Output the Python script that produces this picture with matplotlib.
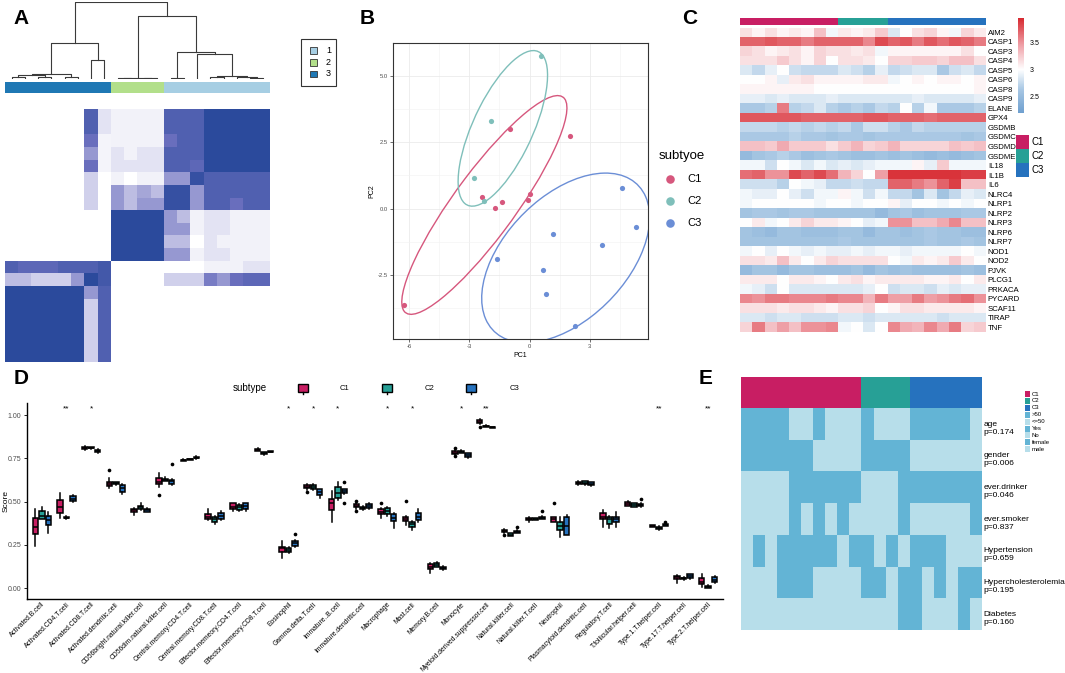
import numpy as np
import matplotlib.pyplot as plt
from matplotlib.colors import LinearSegmentedColormap, ListedColormap, Normalize
from matplotlib.patches import Rectangle, Ellipse

plt.rcParams['font.family'] = ['Liberation Sans', 'DejaVu Sans']

W, H = 1065, 673
fig = plt.figure(figsize=(W / 100, H / 100), dpi=100)


def box(x0, y0, x1, y1):
    # axes from pixel box (top-left origin)
    return fig.add_axes([x0 / W, 1 - y1 / H, (x1 - x0) / W, (y1 - y0) / H])


C1, C2, C3 = '#C81E63', '#27A096', '#2672BE'

# ---------------- panel A data ----------------
a_groups = [3] * 8 + [2] * 4 + [1] * 8
a_group_cols = ['#A6CEE3', '#B2DF8A', '#1F78B4']
consensus = [
    [0, 0, 0, 0, 0, 0, .85, .25, .12, .12, .12, .12, .85, .85, .85, 1, 1, 1, 1, 1],
    [0, 0, 0, 0, 0, 0, .85, .25, .12, .12, .12, .12, .85, .85, .85, 1, 1, 1, 1, 1],
    [0, 0, 0, 0, 0, 0, .75, .1, .12, .12, .12, .12, .75, .85, .85, 1, 1, 1, 1, 1],
    [0, 0, 0, 0, 0, 0, .6, .1, .25, .12, .25, .25, .85, .85, .85, 1, 1, 1, 1, 1],
    [0, 0, 0, 0, 0, 0, .75, .1, .25, .25, .25, .25, .85, .85, .8, 1, 1, 1, 1, 1],
    [0, 0, 0, 0, 0, 0, .35, 0, .12, 0, .12, .12, .6, .6, .95, .85, .85, .85, .85, .85],
    [0, 0, 0, 0, 0, 0, .35, 0, .6, .45, .55, .45, .95, .95, .6, .85, .85, .85, .85, .85],
    [0, 0, 0, 0, 0, 0, .35, 0, .6, .45, .6, .6, .95, .95, .6, .85, .85, .75, .85, .85],
    [0, 0, 0, 0, 0, 0, 0, 0, 1, 1, 1, 1, .6, .45, .12, .25, .25, .12, .12, .12],
    [0, 0, 0, 0, 0, 0, 0, 0, 1, 1, 1, 1, .6, .6, .12, .25, .25, .12, .12, .12],
    [0, 0, 0, 0, 0, 0, 0, 0, 1, 1, 1, 1, .45, .45, 0, .25, .12, .12, .12, .12],
    [0, 0, 0, 0, 0, 0, 0, 0, 1, 1, 1, 1, .6, .6, .12, .25, .25, .12, .12, .12],
    [.85, .8, .8, .8, .85, .85, .85, .9, 0, 0, 0, 0, 0, 0, 0, .12, .12, .12, .25, .25],
    [.45, .45, .35, .35, .35, .6, 1, .9, 0, 0, 0, 0, .35, .35, .35, .7, .6, .75, .8, .8],
    [1, 1, 1, 1, 1, 1, .6, .85, 0, 0, 0, 0, 0, 0, 0, 0, 0, 0, 0, 0],
    [1, 1, 1, 1, 1, 1, .35, .85, 0, 0, 0, 0, 0, 0, 0, 0, 0, 0, 0, 0],
    [1, 1, 1, 1, 1, 1, .35, .85, 0, 0, 0, 0, 0, 0, 0, 0, 0, 0, 0, 0],
    [1, 1, 1, 1, 1, 1, .35, .85, 0, 0, 0, 0, 0, 0, 0, 0, 0, 0, 0, 0],
    [1, 1, 1, 1, 1, 1, .35, .85, 0, 0, 0, 0, 0, 0, 0, 0, 0, 0, 0, 0],
    [1, 1, 1, 1, 1, 1, .35, .85, 0, 0, 0, 0, 0, 0, 0, 0, 0, 0, 0, 0],
]
# (left, right, height); node 20+k is created by merge k
merges = [(0, 1, .02), (2, 3, .02), (20, 21, .05), (4, 5, .03), (22, 23, .065),
          (6, 7, .245), (24, 25, .47), (8, 9, .01), (10, 11, .01), (27, 28, .015),
          (12, 13, .01), (15, 16, .02), (18, 19, .01), (17, 32, .02), (31, 33, .045),
          (14, 34, .32), (30, 35, .35), (29, 36, .82), (26, 37, 1.0)]

# ---------------- panel B data ----------------
pc1_c1 = [-0.96, 2.0, -2.37, -1.72, -1.36, -0.08, 0.03, -6.25]
pc2_c1 = [2.98, 2.74, 0.45, 0.04, 0.24, 0.33, 0.54, -3.63]
pc1_c2 = [0.56, -1.94, -2.75, -2.27]
pc2_c2 = [5.74, 3.28, 1.15, 0.29]
pc1_c3 = [4.59, 5.29, 3.6, 1.18, -1.63, 0.68, 0.83, 2.24]
pc2_c3 = [0.79, -0.69, -1.36, -0.95, -1.89, -2.3, -3.21, -4.4]
# 95% ellipses: centre x, centre y, semi-major, semi-minor, angle (deg)
ell_c1 = (-2.25, 0.14, 5.65, 1.38, 45)
ell_c2 = (-1.33, 3.02, 3.4, 1.4, 56)
ell_c3 = (1.8, -1.85, 4.6, 2.55, 30)

# ---------------- panel C data ----------------
genes = ['AIM2', 'CASP1', 'CASP3', 'CASP4', 'CASP5', 'CASP6', 'CASP8', 'CASP9', 'ELANE', 'GPX4',
         'GSDMB', 'GSDMC', 'GSDMD', 'GSDME', 'IL18', 'IL1B', 'IL6', 'NLRC4', 'NLRP1', 'NLRP2',
         'NLRP3', 'NLRP6', 'NLRP7', 'NOD1', 'NOD2', 'PJVK', 'PLCG1', 'PRKACA', 'PYCARD',
         'SCAF11', 'TIRAP', 'TNF']
c_groups = [1] * 8 + [2] * 4 + [3] * 8
expr = [
    [3.15, 3.05, 3.15, 3.05, 3.1, 3.05, 3.3, 2.95, 3.1, 3.05, 3.1, 3.25, 2.85, 3.0, 3.15, 3.2, 3.05, 2.95, 3.2, 3.1],
    [3.7, 3.7, 3.75, 3.7, 3.7, 3.6, 3.7, 3.7, 3.7, 3.7, 3.55, 3.8, 3.7, 3.75, 3.6, 3.75, 3.65, 3.75, 3.7, 3.6],
    [3.2, 3.15, 3.05, 3.1, 3.15, 3.05, 3.2, 3.15, 3.15, 3.1, 3.15, 2.95, 3.05, 3.05, 3.05, 3.05, 3.05, 3.05, 3.15, 3.0],
    [3.15, 3.15, 3.15, 3.25, 3.15, 3.05, 3.2, 3.0, 3.15, 3.15, 3.1, 3.0, 3.2, 3.2, 3.25, 3.25, 3.2, 3.3, 3.3, 3.15],
    [2.85, 2.75, 2.9, 3.0, 2.8, 2.75, 2.75, 2.75, 2.85, 2.8, 2.7, 2.9, 2.75, 2.8, 2.85, 2.85, 2.65, 2.8, 2.85, 2.75],
    [3.0, 3.0, 3.05, 2.9, 3.1, 3.15, 3.05, 3.05, 3.05, 3.05, 3.1, 3.1, 2.95, 3.0, 3.05, 3.0, 3.05, 3.05, 3.0, 3.05],
    [3.05, 3.05, 3.05, 3.05, 3.05, 3.05, 3.0, 3.0, 3.0, 3.0, 3.0, 3.0, 3.0, 3.0, 3.0, 3.0, 3.0, 3.0, 3.0, 3.05],
    [2.9, 2.9, 2.85, 2.9, 2.85, 2.85, 2.85, 2.9, 2.85, 2.85, 2.85, 2.85, 2.85, 2.85, 2.9, 2.85, 2.85, 2.85, 2.85, 2.9],
    [2.65, 2.65, 2.7, 3.6, 2.7, 2.75, 2.85, 2.7, 2.65, 2.7, 2.65, 2.75, 2.7, 3.0, 2.7, 2.95, 2.65, 2.65, 2.65, 2.7],
    [3.75, 3.75, 3.75, 3.75, 3.75, 3.7, 3.7, 3.7, 3.7, 3.7, 3.75, 3.75, 3.7, 3.7, 3.7, 3.65, 3.7, 3.7, 3.7, 3.7],
    [2.75, 2.75, 2.75, 2.7, 2.75, 2.7, 2.75, 2.7, 2.75, 2.65, 2.8, 2.8, 2.7, 2.65, 2.75, 2.7, 2.7, 2.7, 2.7, 2.7],
    [2.65, 2.65, 2.65, 2.65, 2.7, 2.65, 2.65, 2.6, 2.65, 2.65, 2.6, 2.65, 2.65, 2.65, 2.65, 2.65, 2.65, 2.65, 2.6, 2.65],
    [3.3, 3.3, 3.25, 3.4, 3.25, 3.25, 3.25, 3.15, 3.25, 3.35, 3.2, 3.25, 3.35, 3.2, 3.2, 3.2, 3.2, 3.3, 3.25, 3.3],
    [2.5, 2.6, 2.65, 2.7, 2.65, 2.55, 2.6, 2.65, 2.6, 2.55, 2.55, 2.6, 2.55, 2.6, 2.55, 2.5, 2.55, 2.5, 2.55, 2.6],
    [2.95, 2.95, 2.8, 3.0, 2.95, 2.85, 2.95, 2.85, 2.9, 2.85, 2.9, 2.95, 2.95, 2.95, 3.05, 2.9, 3.25, 2.95, 2.95, 2.95],
    [3.65, 3.7, 3.5, 3.5, 3.8, 3.7, 3.8, 3.65, 3.35, 3.2, 3.0, 3.45, 3.9, 3.9, 3.9, 3.9, 3.9, 3.9, 3.85, 3.85],
    [2.8, 2.8, 2.8, 2.7, 3.0, 2.95, 2.9, 2.75, 2.75, 2.8, 2.75, 2.75, 3.7, 3.7, 3.6, 3.5, 3.7, 3.85, 3.3, 3.3],
    [2.95, 2.9, 2.9, 3.0, 2.9, 2.8, 2.95, 2.95, 3.05, 2.95, 2.8, 2.95, 2.75, 2.75, 2.6, 2.85, 2.6, 2.75, 2.9, 2.85],
    [2.95, 3.0, 3.0, 3.0, 3.0, 3.0, 2.95, 3.0, 3.0, 2.95, 3.0, 3.0, 3.05, 2.9, 3.0, 3.0, 2.95, 3.0, 2.95, 3.0],
    [2.6, 2.65, 2.65, 2.6, 2.65, 2.65, 2.6, 2.6, 2.6, 2.6, 2.6, 2.5, 2.6, 2.65, 2.55, 2.6, 2.6, 2.6, 2.65, 2.65],
    [3.0, 3.1, 2.95, 3.0, 3.1, 3.2, 3.1, 3.1, 3.05, 3.0, 2.9, 2.95, 3.5, 3.5, 3.3, 3.3, 3.4, 3.55, 3.3, 3.3],
    [2.6, 2.55, 2.5, 2.6, 2.6, 2.55, 2.55, 2.55, 2.6, 2.6, 2.5, 2.6, 2.6, 2.55, 2.6, 2.65, 2.6, 2.6, 2.55, 2.55],
    [2.6, 2.6, 2.6, 2.6, 2.6, 2.6, 2.6, 2.6, 2.65, 2.6, 2.6, 2.6, 2.6, 2.6, 2.6, 2.65, 2.6, 2.6, 2.65, 2.6],
    [2.95, 3.0, 2.9, 3.0, 2.95, 2.9, 2.95, 2.9, 2.9, 2.95, 2.9, 2.95, 2.95, 2.9, 2.95, 2.95, 2.95, 2.95, 3.0, 2.95],
    [3.15, 3.15, 3.1, 3.3, 3.1, 3.0, 3.1, 3.2, 3.15, 3.15, 3.15, 3.15, 3.0, 2.95, 3.1, 3.05, 3.1, 3.25, 3.1, 3.0],
    [2.5, 2.6, 2.6, 2.5, 2.6, 2.6, 2.55, 2.55, 2.55, 2.6, 2.5, 2.6, 2.55, 2.6, 2.55, 2.55, 2.55, 2.55, 2.6, 2.55],
    [3.1, 3.1, 3.1, 3.0, 3.1, 3.1, 3.05, 3.0, 3.1, 3.15, 3.05, 3.1, 3.1, 3.1, 3.1, 3.05, 3.05, 3.1, 3.0, 3.1],
    [2.95, 2.9, 2.8, 3.0, 2.85, 2.85, 2.85, 2.85, 2.85, 2.85, 2.9, 3.0, 2.8, 2.85, 2.85, 2.8, 2.9, 2.85, 2.9, 2.9],
    [3.55, 3.5, 3.6, 3.6, 3.55, 3.55, 3.55, 3.6, 3.55, 3.55, 3.35, 3.6, 3.45, 3.45, 3.6, 3.45, 3.5, 3.6, 3.65, 3.5],
    [3.15, 3.15, 3.15, 3.1, 3.15, 3.15, 3.1, 3.05, 3.15, 3.15, 3.2, 3.0, 3.05, 3.15, 3.15, 3.1, 3.1, 3.1, 3.1, 3.05],
    [2.85, 2.85, 2.8, 2.85, 2.85, 2.8, 2.8, 2.8, 2.85, 2.85, 2.8, 2.85, 2.85, 2.85, 2.85, 2.85, 2.8, 2.85, 2.85, 2.85],
    [3.2, 3.6, 3.3, 3.45, 3.3, 3.5, 3.5, 3.55, 2.95, 3.0, 2.85, 3.0, 3.55, 3.4, 3.35, 3.55, 3.4, 3.6, 3.2, 3.25],
]

# ---------------- panel D data ----------------
cells = ['Activated.B.cell', 'Activated.CD4.T.cell', 'Activated.CD8.T.cell', 'Activated.dendritic.cell',
         'CD56bright.natural.killer.cell', 'CD56dim.natural.killer.cell', 'Central.memory.CD4.T.cell',
         'Central.memory.CD8.T.cell', 'Effector.memeory.CD4.T.cell', 'Effector.memeory.CD8.T.cell',
         'Eosinophil', 'Gamma.delta.T.cell', 'Immature..B.cell', 'Immature.dendritic.cell', 'Macrophage',
         'Mast.cell', 'Memory.B.cell', 'Monocyte', 'Myeloid.derived.suppressor.cell', 'Natural.killer.cell',
         'Natural.killer.T.cell', 'Neutrophil', 'Plasmacytoid.dendritic.cell', 'Regulatory.T.cell',
         'T.follicular.helper.cell', 'Type.1.T.helper.cell', 'Type.17.T.helper.cell', 'Type.2.T.helper.cell']
# lo, q1, median, q3, hi
c1_stats = [[.245, .312, .356, .408, .46], [.408, .433, .467, .51, .552], [.80, .806, .812, .818, .823],
            [.577, .59, .60, .615, .635], [.423, .44, .45, .458, .462], [.587, .602, .615, .635, .663],
            [.735, .737, .74, .743, .745], [.392, .398, .413, .427, .46], [.445, .456, .471, .49, .493],
            [.79, .793, .798, .803, .808], [.177, .212, .23, .24, .275], [.57, .577, .587, .596, .60],
            [.385, .452, .49, .515, .562], [.46, .467, .475, .487, .49], [.404, .427, .438, .456, .465],
            [.365, .39, .40, .413, .42], [.087, .112, .125, .14, .145], [.77, .773, .782, .792, .797],
            [.95, .955, .962, .97, .975], [.322, .325, .33, .337, .34], [.385, .394, .40, .408, .41],
            [.38, .385, .398, .41, .413], [.597, .60, .607, .615, .62], [.352, .398, .413, .437, .452],
            [.474, .477, .488, .50, .502], [.353, .356, .36, .365, .368], [.033, .054, .063, .073, .075],
            [.01, .025, .038, .058, .083]]
c2_stats = [[.40, .40, .419, .448, .467], [.402, .404, .408, .412, .415], [.805, .808, .812, .815, .818],
            [.598, .602, .607, .613, .616], [.45, .455, .467, .475, .49], [.62, .622, .628, .633, .64],
            [.74, .742, .744, .746, .748], [.37, .385, .398, .413, .42], [.448, .452, .467, .48, .485],
            [.772, .776, .78, .785, .788], [.205, .212, .221, .23, .24], [.568, .573, .587, .596, .60],
            [.51, .519, .552, .587, .612], [.452, .456, .462, .471, .475], [.42, .429, .448, .462, .47],
            [.337, .356, .371, .385, .39], [.12, .125, .135, .148, .152], [.78, .783, .788, .794, .797],
            [.93, .932, .935, .94, .942], [.30, .302, .31, .317, .32], [.392, .394, .398, .404, .406],
            [.298, .337, .36, .385, .413], [.598, .602, .61, .619, .622], [.346, .371, .398, .413, .42],
            [.468, .471, .48, .49, .492], [.336, .34, .348, .356, .358], [.05, .052, .057, .062, .064],
            [.0, .002, .008, .015, .018]]
c3_stats = [[.317, .365, .394, .417, .442], [.50, .504, .515, .533, .536], [.78, .788, .794, .80, .804],
            [.544, .558, .577, .596, .60], [.44, .442, .45, .458, .462], [.598, .60, .619, .628, .63],
            [.748, .751, .755, .758, .762], [.394, .40, .417, .433, .448], [.447, .458, .475, .49, .493],
            [.785, .786, .788, .79, .792], [.24, .246, .26, .275, .28], [.52, .538, .558, .571, .575],
            [.545, .548, .562, .571, .575], [.455, .462, .475, .487, .495], [.346, .39, .408, .429, .435],
            [.385, .394, .413, .433, .46], [.108, .112, .118, .125, .128], [.755, .76, .768, .779, .782],
            [.926, .928, .93, .932, .934], [.318, .321, .326, .331, .334], [.398, .40, .405, .413, .415],
            [.308, .308, .36, .413, .423], [.59, .596, .604, .612, .615], [.356, .381, .398, .413, .438],
            [.472, .475, .481, .487, .49], [.357, .36, .364, .369, .372], [.055, .058, .07, .081, .084],
            [.032, .035, .05, .067, .07]]
# (cell index, subtype index, value)
outliers = [(3, 0, .683), (5, 0, .538), (5, 2, .717), (10, 2, .313), (11, 0, .554), (12, 2, .612),
            (12, 2, .494), (13, 0, .506), (13, 0, .448), (14, 0, .49), (15, 0, .506), (17, 0, .812),
            (17, 0, .763), (18, 0, .933), (19, 0, .308), (19, 2, .352), (20, 2, .446), (21, 0, .494),
            (24, 2, .515), (25, 2, .385)]
signif = ['', '**', '*', '', '', '', '', '', '', '', '*', '*', '*', '', '*', '*', '', '*', '**', '',
          '', '', '', '', '', '**', '', '**']

# ---------------- panel E data ----------------
e_groups = [1] * 10 + [2] * 4 + [3] * 6
clin_rows = ['age\np=0.174', 'gender\np=0.006', 'ever.drinker\np=0.046', 'ever.smoker\np=0.837',
             'Hypertension\np=0.659', 'Hypercholesterolemia\np=0.195', 'Diabetes\np=0.160']
clin = [
    [1, 1, 1, 1, 0, 0, 1, 0, 0, 0, 1, 0, 0, 0, 1, 1, 1, 1, 1, 0],
    [1, 1, 1, 1, 1, 1, 0, 0, 0, 0, 1, 1, 1, 1, 0, 0, 0, 0, 0, 0],
    [0, 0, 0, 0, 1, 1, 1, 1, 1, 1, 0, 0, 0, 1, 1, 1, 1, 1, 1, 1],
    [0, 0, 0, 0, 1, 0, 1, 0, 1, 0, 0, 0, 0, 1, 0, 0, 0, 0, 0, 1],
    [0, 1, 0, 1, 1, 1, 1, 1, 0, 1, 1, 0, 1, 0, 1, 1, 1, 0, 0, 0],
    [0, 0, 0, 1, 1, 1, 0, 0, 0, 0, 1, 1, 0, 1, 1, 0, 1, 0, 1, 1],
    [0, 0, 0, 0, 0, 0, 0, 0, 0, 0, 0, 0, 0, 1, 1, 0, 0, 0, 1, 0],
]
e_leg_labels = ['C1', 'C2', 'C3', '>50', '<=50', 'Yes', 'No', 'female', 'male']

# ================= drawing =================
ov = fig.add_axes([0, 0, 1, 1], zorder=10)
ov.set_xlim(0, W)
ov.set_ylim(H, 0)
ov.axis('off')

for lab, x, y in [('A', 21, 19), ('B', 367, 19), ('C', 690, 18), ('D', 21, 378), ('E', 706, 379)]:
    ov.text(x, y, lab, fontsize=15, fontweight='bold', ha='center', va='center')

# ---- A ----
ax = box(5, 2, 270, 79)
pos = {i: i + 0.5 for i in range(20)}
hgt = {i: 0.0 for i in range(20)}
for k, (l, r, h) in enumerate(merges):
    ax.plot([pos[l], pos[l], pos[r], pos[r]], [hgt[l], h, h, hgt[r]], color='#3a3a3a', lw=0.8)
    pos[20 + k] = (pos[l] + pos[r]) / 2
    hgt[20 + k] = h
ax.set_xlim(0, 20)
ax.set_ylim(0, 1)
ax.axis('off')

ax = box(5, 81.7, 270, 93.3)
ax.imshow([a_groups], cmap=ListedColormap(a_group_cols), vmin=0.5, vmax=3.5, aspect='auto',
          interpolation='nearest')
ax.axis('off')

cons_cmap = LinearSegmentedColormap.from_list(
    'cons', ['#FFFFFF', '#E4E4F4', '#B4B4DE', '#6A6FBE', '#2B4A9C'])
ax = box(5, 109.3, 270, 361.7)
ax.imshow(np.array(consensus), cmap=cons_cmap, vmin=0, vmax=1, aspect='auto', interpolation='nearest')
ax.axis('off')

ov.add_patch(Rectangle((301, 39), 35, 47, fill=False, ec='#333333', lw=0.8))
for i, y in enumerate([50.7, 62.3, 74]):
    ov.add_patch(Rectangle((310, y - 3.3), 7, 6.6, fc=a_group_cols[i], ec='#333333', lw=0.6))
    ov.text(326, y, str(i + 1), fontsize=6.5, ha='left', va='center')

# ---- B ----
bcols = ['#D6577D', '#7FBFBA', '#6B8ED6']
ax = box(393, 43, 648, 339)
groups_b = [(pc1_c1, pc2_c1, ell_c1), (pc1_c2, pc2_c2, ell_c2), (pc1_c3, pc2_c3, ell_c3)]
for (xs, ys, el), col in zip(groups_b, bcols):
    ax.scatter(xs, ys, s=14, color=col, zorder=3, lw=0)
    cx, cy, a, b, ang = el
    ax.add_patch(Ellipse((cx, cy), 2 * a, 2 * b, angle=ang, fill=False, ec=col, lw=1, zorder=2))
ax.set_xlim(-6.8, 5.9)
ax.set_ylim(-4.9, 6.23)
ax.set_xticks([-6, -3, 0, 3])
ax.set_xticklabels(['-6', '-3', '0', '3'])
ax.set_yticks([-2.5, 0, 2.5, 5.0])
ax.set_yticklabels(['-2.5', '0.0', '2.5', '5.0'])
ax.set_xticks([-4.5, -1.5, 1.5, 4.5], minor=True)
ax.set_yticks([-3.75, -1.25, 1.25, 3.75], minor=True)
ax.grid(True, which='major', color='#EBEBEB', lw=0.6)
ax.grid(True, which='minor', color='#F2F2F2', lw=0.4)
ax.set_axisbelow(True)
ax.tick_params(which='major', labelsize=4.2, length=2, width=0.5, colors='#333333', labelcolor='#4D4D4D', pad=1.5)
ax.tick_params(which='minor', length=0)
for s in ax.spines.values():
    s.set_color('#333333')
    s.set_linewidth(0.8)
ax.set_xlabel('PC1', fontsize=5, labelpad=2)
ax.set_ylabel('PC2', fontsize=5, labelpad=2)

ov.text(659, 156, 'subtyoe', fontsize=9.5, ha='left', va='center')
for i, (lab, y) in enumerate([('C1', 179.3), ('C2', 200.7), ('C3', 222.7)]):
    ov.scatter([670], [y], s=38, color=bcols[i], lw=0)
    ov.text(687, y, lab, fontsize=8, ha='left', va='center')

# ---- C ----
ccols = [C1, C2, C3]
ax = box(740.3, 18.3, 985.7, 25)
ax.imshow([c_groups], cmap=ListedColormap(ccols), vmin=0.5, vmax=3.5, aspect='auto', interpolation='nearest')
ax.axis('off')

vmin, vmax = 2.2, 3.95
f0 = (3.0 - vmin) / (vmax - vmin)
heat_cmap = LinearSegmentedColormap.from_list(
    'heat', [(0, '#6E9FCF'), (f0 * 0.55, '#A9C8E4'), (f0, '#FFFFFF'), (f0 + (1 - f0) * 0.45, '#F0A5AC'), (1, '#D7282F')])
ax = box(740.3, 27.5, 985.7, 332.1)
im = ax.imshow(np.array(expr), cmap=heat_cmap, norm=Normalize(vmin, vmax), aspect='auto', interpolation='nearest')
ax.set_xticks([])
ax.set_yticks(range(len(genes)))
ax.set_yticklabels(genes, fontsize=5.6)
ax.yaxis.tick_right()
ax.tick_params(axis='y', length=0, pad=1.5)
for s in ax.spines.values():
    s.set_visible(False)

cax = box(1018, 18, 1024, 113)
cb = fig.colorbar(im, cax=cax, ticks=[2.5, 3, 3.5])
cb.ax.set_yticklabels(['2.5', '3', '3.5'])
cb.ax.tick_params(labelsize=5, length=2, width=0.5, color='white', pad=2)
cb.outline.set_visible(False)

for i, (lab, y) in enumerate([('C1', 135), ('C2', 149), ('C3', 163)]):
    ov.add_patch(Rectangle((1016, y), 13, 14, fc=ccols[i], ec='none'))
    ov.text(1032, y + 7, lab, fontsize=7, ha='left', va='center')

# ---- D ----
ax = box(27, 403, 723, 599)
n = len(cells)
xs = np.arange(n)
for j, (stats, col) in enumerate(zip([c1_stats, c2_stats, c3_stats], ccols)):
    bstats = [dict(whislo=s[0], q1=s[1], med=s[2], q3=s[3], whishi=s[4], fliers=[]) for s in stats]
    ax.bxp(bstats, positions=xs + (j - 1) * 0.26, widths=0.22, patch_artist=True, showcaps=False,
           showfliers=False, manage_ticks=False,
           boxprops=dict(facecolor=col, edgecolor='black', lw=1.1),
           medianprops=dict(color='black', lw=1.1),
           whiskerprops=dict(color='black', lw=1.1))
ox = [c + (s - 1) * 0.26 for c, s, v in outliers]
oy = [v for c, s, v in outliers]
ax.scatter(ox, oy, s=7, color='black', zorder=4, lw=0)
for i, lab in enumerate(signif):
    if lab:
        ax.text(i, 1.035, lab, fontsize=6, ha='center', va='center')
ax.set_xlim(-0.6, n - 0.4)
ax.set_ylim(-0.062, 1.07)
ax.set_xticks(xs)
ax.set_xticklabels(cells, rotation=45, ha='right', rotation_mode='anchor', fontsize=4.9)
ax.set_yticks([0, 0.25, 0.5, 0.75, 1.0])
ax.set_yticklabels(['0.00', '0.25', '0.50', '0.75', '1.00'])
ax.tick_params(axis='y', labelsize=5, labelcolor='#4D4D4D', length=2, width=0.6, pad=2)
ax.tick_params(axis='x', length=0, pad=1.5)
ax.spines['top'].set_visible(False)
ax.spines['right'].set_visible(False)
ax.spines['left'].set_linewidth(1)
ax.spines['bottom'].set_linewidth(1)
ov.text(6, 501, 'Score', fontsize=6, rotation=90, ha='center', va='center')

ov.text(233, 388, 'subtype', fontsize=7, ha='left', va='center')
for i, (kx, lx, lab) in enumerate([(298, 340, 'C1'), (382, 425, 'C2'), (466, 510, 'C3')]):
    ov.add_patch(Rectangle((kx, 383.5), 10, 8, fc=ccols[i], ec='black', lw=1))
    ov.plot([kx + 5, kx + 5], [391.5, 394], color='black', lw=1)
    ov.text(lx, 388, lab, fontsize=5.5, ha='left', va='center')

# ---- E ----
ax = box(741, 376.7, 981.7, 408.3)
ax.imshow([e_groups], cmap=ListedColormap(ccols), vmin=0.5, vmax=3.5, aspect='auto', interpolation='nearest')
ax.axis('off')

e_dark, e_light = '#63B4D5', '#B7DEEA'
ax = box(741, 408.3, 981.7, 630)
ax.imshow(np.array(clin), cmap=ListedColormap([e_light, e_dark]), vmin=0, vmax=1, aspect='auto',
          interpolation='nearest')
ax.axis('off')
row_h = (630 - 408.3) / len(clin_rows)
for i, lab in enumerate(clin_rows):
    ov.text(983.5, 408.3 + row_h * (i + 0.5) + 4, lab, fontsize=6, ha='left', va='center', linespacing=1.25)

e_leg_cols = [C1, C2, C3, e_dark, e_light, e_dark, e_light, e_dark, e_light]
for i, (lab, col) in enumerate(zip(e_leg_labels, e_leg_cols)):
    y = 394 + i * 6.9
    ov.add_patch(Rectangle((1024.5, y - 3), 5.5, 6, fc=col, ec='none'))
    ov.text(1032, y, lab, fontsize=4.3, ha='left', va='center')

fig.savefig('out.png', dpi=100)
